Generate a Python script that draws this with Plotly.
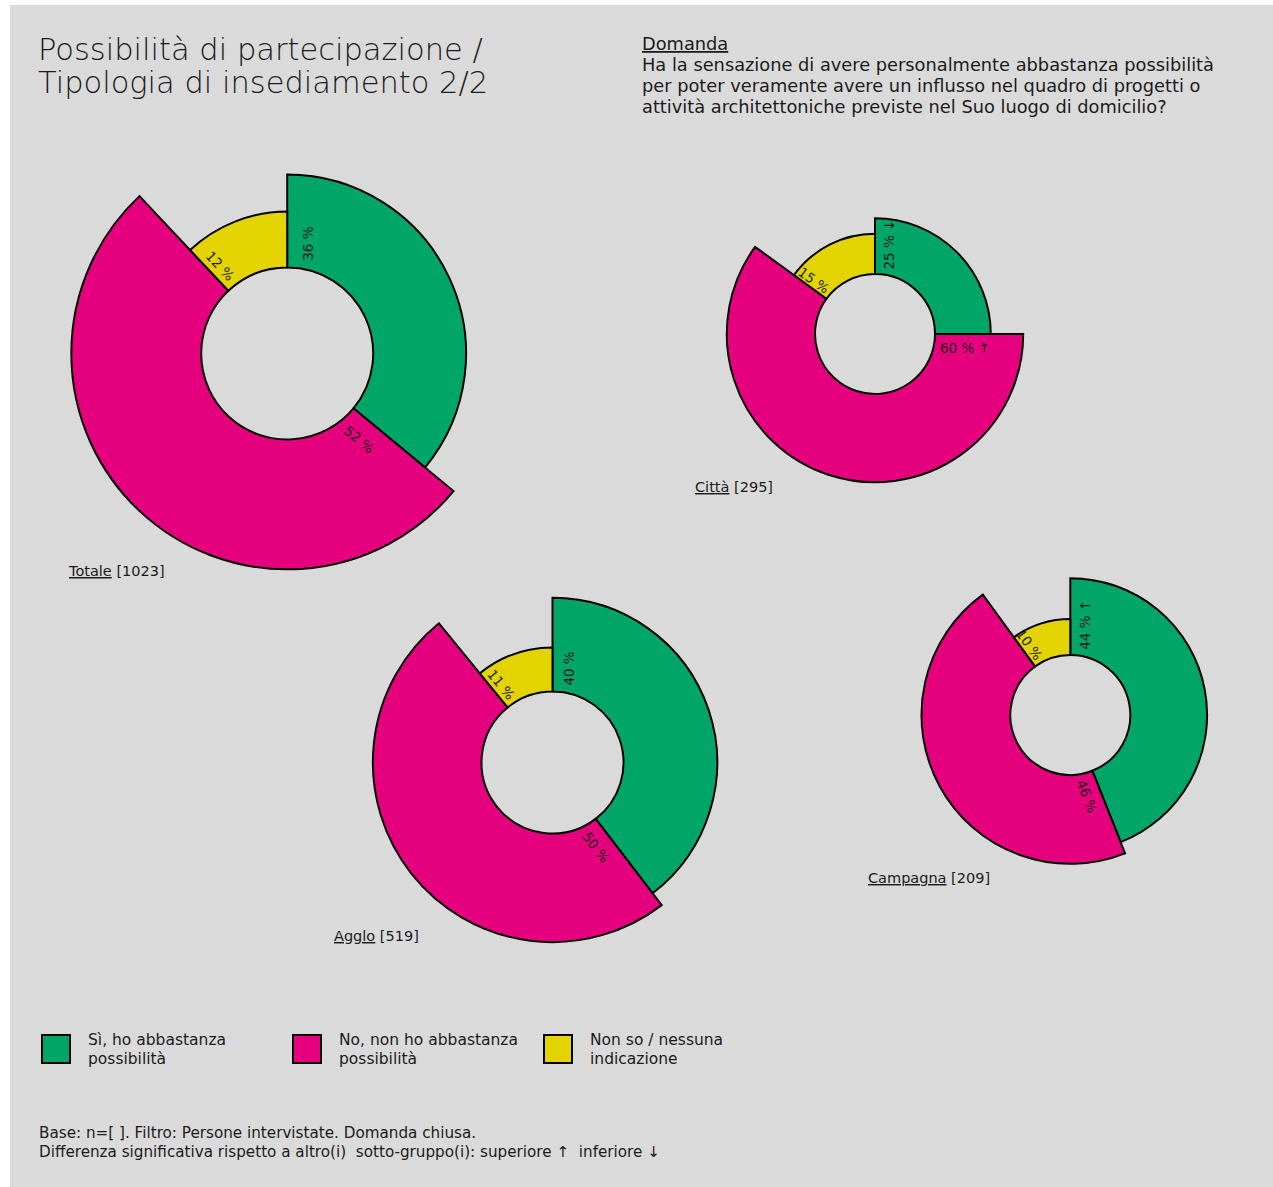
import math
import plotly.graph_objects as go

# ---- data -------------------------------------------------------------
groups = ["Totale", "Città", "Agglo", "Campagna"]
base_n = [1023, 295, 519, 209]

answer_labels = [
    ["Sì, ho abbastanza", "possibilità"],
    ["No, non ho abbastanza", "possibilità"],
    ["Non so / nessuna", "indicazione"],
]

share_si = [36, 25, 40, 44]
share_no = [52, 60, 50, 46]
share_ns = [12, 15, 11, 10]

# significance markers vs. other sub-groups
sig_si = ["", "↓", "", "↑"]
sig_no = ["", "↑", "", ""]
sig_ns = ["", "", "", ""]

# outer radius of every sector, expressed in hole radii
reach_si = [2.08, 1.93, 2.32, 2.28]
reach_no = [2.51, 2.47, 2.53, 2.48]
reach_ns = [1.65, 1.67, 1.62, 1.60]

title_lines = ["Possibilità di partecipazione /", "Tipologia di insediamento 2/2"]
question_lines = [
    "<u>Domanda</u>",
    "Ha la sensazione di avere personalmente abbastanza possibilità",
    "per poter veramente avere un influsso nel quadro di progetti o",
    "attività architettoniche previste nel Suo luogo di domicilio?",
]
footer_lines = [
    "Base: n=[ ]. Filtro: Persone intervistate. Domanda chiusa.",
    "Differenza significativa rispetto a altro(i)  sotto-gruppo(i): superiore ↑  inferiore ↓",
]

# ---- styling / placement ---------------------------------------------
W, H = 1273, 1187
BG = "#dadada"
COLORS = ["#00a567", "#e5007e", "#e3d300"]
FONT = "DejaVu Sans"
INK = "#1b1b1b"
RMAX = 2.6  # radial axis extent, in hole radii

# centre x, centre y, hole radius, group label x, group label y (pixels)
placement = [
    (287.2, 353.5, 86, 66, 571),
    (875.0, 334.0, 60, 693, 487),
    (552.5, 762.5, 71, 332, 936),
    (1070.3, 715.0, 60, 866, 878),
]


def fx(px):
    return px / W


def fy(py):
    return 1 - py / H


annotations = []


def text_line(txt, x, y, size, xanchor="left", angle=0, weight=400):
    annotations.append(dict(
        x=fx(x), y=fy(y), xref="paper", yref="paper", text=txt,
        textangle=angle, showarrow=False, xanchor=xanchor, yanchor="middle",
        align="left", font=dict(family=FONT, size=size, color=INK, weight=weight),
    ))


fig = go.Figure()
shapes = [
    dict(type="rect", xref="paper", yref="paper", x0=fx(10), x1=1, y0=0, y1=fy(5),
         fillcolor=BG, line=dict(width=0), layer="below"),
]

LABEL_SIZE = 13.5

for i, g in enumerate(groups):
    cx, cy, hole, lx, ly = placement[i]
    shares = [share_si[i], share_no[i], share_ns[i]]
    reach = [reach_si[i], reach_no[i], reach_ns[i]]
    sigs = [sig_si[i], sig_no[i], sig_ns[i]]
    total = sum(shares)
    widths = [s / total * 360 for s in shares]
    starts = [sum(widths[:k]) for k in range(3)]
    centers = [starts[k] + widths[k] / 2 for k in range(3)]

    name = "polar" if i == 0 else f"polar{i + 1}"
    R = RMAX * hole
    fig.add_trace(go.Barpolar(
        r=[v - 1 for v in reach], base=1, theta=centers, width=widths,
        marker=dict(color=COLORS, line=dict(color="black", width=2)),
        subplot=name, showlegend=False,
        hovertext=[f"{s} %" for s in shares], hoverinfo="text",
    ))
    fig.layout[name] = dict(
        domain=dict(x=[fx(cx - R), fx(cx + R)], y=[fy(cy + R), fy(cy - R)]),
        bgcolor="rgba(0,0,0,0)", hole=0,
        radialaxis=dict(visible=False, range=[0, RMAX]),
        angularaxis=dict(visible=False, rotation=90, direction="clockwise"),
    )

    # value labels, written along the radius just after each sector's start edge
    for k in range(3):
        txt = f"{shares[k]} %" + (f" {sigs[k]}" if sigs[k] else "")
        th = math.radians(starts[k])
        rot = starts[k] - 90
        while rot > 180:
            rot -= 360
        while rot <= -180:
            rot += 360
        flipped = abs(rot) > 90
        if flipped:
            rot = rot + 180 if rot < 0 else rot - 180
        tlen = 0.62 * LABEL_SIZE * len(txt)
        rc = hole * 1.08 + tlen / 2
        off = hole * (0.13 if flipped else 0.24)
        ux, uy = math.sin(th), -math.cos(th)
        tx, ty = math.cos(th), math.sin(th)
        text_line(txt, cx + rc * ux + off * tx, cy + rc * uy + off * ty,
                  LABEL_SIZE, xanchor="center", angle=rot)

    text_line(f"<u>{g}</u> [{base_n[i]}]", lx, ly, 14.5)

# title and question
for j, line in enumerate(title_lines):
    text_line(line, 36, 49 + j * 33, 30.5, weight=300)
for j, line in enumerate(question_lines):
    text_line(line, 640, 43 + j * 21, 17.8)

# legend
for k, lab in enumerate(answer_labels):
    x0 = 42 + k * 251
    shapes.append(dict(type="rect", xref="paper", yref="paper",
                       x0=fx(x0), x1=fx(x0 + 28), y0=fy(1063), y1=fy(1035),
                       fillcolor=COLORS[k], line=dict(color="black", width=2)))
    for j, line in enumerate(lab):
        text_line(line, x0 + 44, 1040 + j * 19, 15.5)

# footer
for j, line in enumerate(footer_lines):
    text_line(line, 37, 1133 + j * 19, 15.2)

fig.update_layout(
    width=W, height=H, margin=dict(l=0, r=0, t=0, b=0),
    paper_bgcolor="white", plot_bgcolor="white",
    shapes=shapes, annotations=annotations, showlegend=False,
)

fig.write_html("out.html")
